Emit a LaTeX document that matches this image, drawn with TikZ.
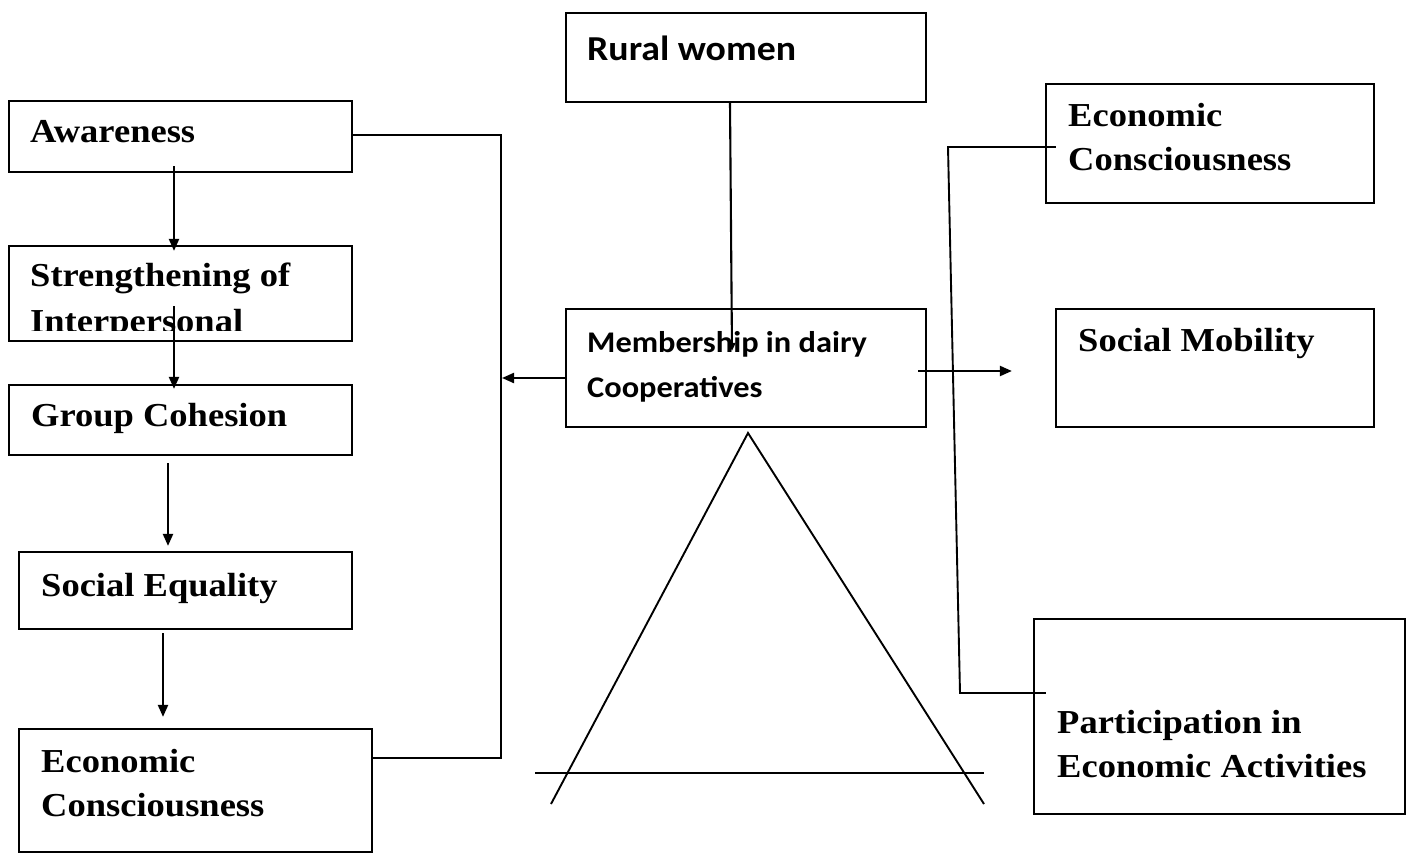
\documentclass[tikz,border=0pt]{standalone}
\usepackage{fontspec}
\usetikzlibrary{arrows.meta,fit}
\newfontfamily\serb{Liberation Serif}[FakeStretch=1.09]
\newfontfamily\calb{Carlito}[FakeStretch=1.08]
\tikzset{
  box/.style={draw, line width=2.2pt, inner sep=0pt},
  lbl/.style={anchor=base west, inner sep=0pt, font=\serb\bfseries\fontsize{33.5}{44}\selectfont},
  clbl/.style={anchor=base west, inner sep=0pt, font=\calb\bfseries\fontsize{35}{44}\selectfont},
  cslbl/.style={anchor=base west, inner sep=0pt, font=\calb\bfseries\fontsize{30}{40}\selectfont},
  arr/.style={line width=2.1pt, -{Triangle[length=12pt,width=10pt]}},
  sarr/.style={line width=2.1pt, -{Triangle[length=8pt,width=7pt]}},
  conn/.style={line width=1.9pt},
}
\begin{document}
\begin{tikzpicture}[x=1pt,y=-1pt]
\fill[white] (0,0) rectangle (1413,854);
\useasboundingbox (0,0) rectangle (1413,854);

% boxes
\node[box, fit={(9,101) (352,172)}] (aw) {};
\node[box, fit={(9,246) (352,341)}] (st) {};
\node[box, fit={(9,385) (352,455)}] (gc) {};
\node[box, fit={(19,552) (352,629)}] (se) {};
\node[box, fit={(19,729) (372,852)}] (ecl) {};
\node[box, fit={(566,13) (926,102)}] (rw) {};
\node[box, fit={(566,309) (926,427)}] (mem) {};
\node[box, fit={(1046,84) (1374,203)}] (ecr) {};
\node[box, fit={(1056,309) (1374,427)}] (sm) {};
\node[box, fit={(1034,619) (1405,814)}] (pa) {};

% texts
\node[lbl] (taw) at (30,142) {Awareness};
\node[lbl] (tst1) at (30,286) {Strengthening of};
\begin{scope}
  \clip (9,246) rectangle (352,330.5);
  \node[lbl] (tst2) at (30,332) {Interpersonal};
\end{scope}
\node[lbl] (tgc) at (31,426) {Group Cohesion};
\node[lbl] (tse) at (41,596) {Social Equality};
\node[lbl] (tec1) at (41,772) {Economic};
\node[lbl] (tec2) at (41,816) {Consciousness};
\node[clbl] (trw) at (587,60) {Rural women};
\node[cslbl] (tm1) at (587,352) {Membership in dairy};
\node[cslbl] (tm2) at (587,397) {Cooperatives};
\node[lbl] (ter1) at (1068,126) {Economic};
\node[lbl] (ter2) at (1068,170) {Consciousness};
\node[lbl] (tsm) at (1078,351) {Social Mobility};
\node[lbl] (tpa1) at (1057,733) {Participation in};
\node[lbl] (tpa2) at (1057,777) {Economic Activities};

% left chain arrows
\draw[arr] ([xshift=-6.5pt,yshift=7pt]aw.south) -- ([xshift=-6.5pt,yshift=-6pt]st.north);
\draw[arr] ([xshift=-6.5pt,yshift=36pt]st.south) -- ([xshift=-6.5pt,yshift=-5pt]gc.north);
\draw[arr] ([xshift=-12.5pt,yshift=-7pt]gc.south) -- ([xshift=-17.5pt,yshift=5pt]se.north);
\draw[arr] ([xshift=-22.5pt,yshift=-3pt]se.south) -- ([xshift=-32.5pt,yshift=11pt]ecl.north);

% left bracket
\coordinate (b1) at (501,135);
\coordinate (b2) at (501,758);
\coordinate (b3) at (502,378);
\draw[conn] (aw.east |- b1) -- (b1) -- (b2) -- (ecl.east |- b2);
\draw[arr] (mem.west |- b3) -- (b3);

% rural women to membership
\draw[sarr] ([xshift=-16pt]rw.south) -- ([xshift=-14pt,yshift=-43pt]mem.north);

% membership to social mobility
\draw[arr] ([xshift=-9pt,yshift=-3pt]mem.east) -- ([xshift=-43pt,yshift=-3pt]sm.west);

% right connector
\coordinate (c1) at (948,147);
\coordinate (c2) at (960,693);
\draw[conn] ([xshift=11pt]ecr.west |- c1) -- (c1) -- (c2) -- ([xshift=13pt]pa.west |- c2);

% triangle
\draw[conn] (551,804) -- (748,433) -- (984,804);
\draw[conn] (535,773) -- (984,773);
\end{tikzpicture}
\end{document}
